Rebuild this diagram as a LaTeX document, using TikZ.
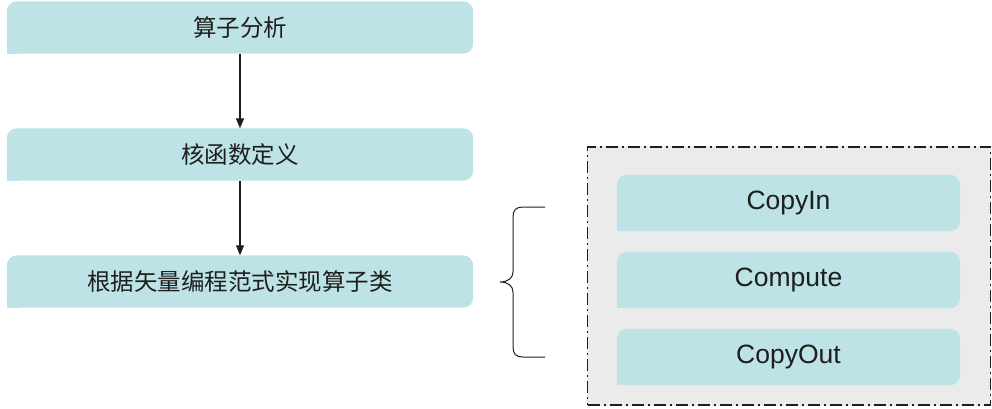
\documentclass[tikz,border=0pt]{standalone}
\usepackage{fontspec}
\setmainfont{Liberation Sans}
\newfontfamily\cjk{Noto Sans CJK SC}
\usetikzlibrary{arrows.meta,backgrounds}
\definecolor{boxfill}{RGB}{190,227,230}
\definecolor{framefill}{RGB}{235,235,235}
\definecolor{ink}{RGB}{30,30,30}
\begin{document}
\begin{tikzpicture}[x=1pt,y=-1pt,
  stepbox/.style={minimum width=466pt,minimum height=52pt,inner sep=0pt,
    font=\cjk\fontsize{23.5}{28}\selectfont,text=ink},
  partbox/.style={minimum width=343pt,minimum height=56pt,inner sep=0pt,
    font=\fontsize{26.5}{31}\selectfont,text=ink},
  framebox/.style={minimum width=403pt,minimum height=258pt,inner sep=0pt,
    draw=ink,line width=1.2pt,dash pattern=on 12pt off 4pt on 2pt off 4pt},
  flow/.style={-{Triangle[length=10pt,width=8pt]},line width=1.2pt,draw=ink},
  bracestyle/.style={draw=ink,line width=1pt},
  roundfill/.style={fill=boxfill,rounded corners=10pt},
]
\useasboundingbox (0,0) rectangle (992,408);
% left flow
\node[stepbox] (a) at (240,27.5) {算子分析};
\node[stepbox] (b) at (240,154.5) {核函数定义};
\node[stepbox] (c) at (240,281.5) {根据矢量编程范式实现算子类};
\draw[flow] (a.south) -- (b.north);
\draw[flow] (b.south) -- (c.north);
% frame and parts
\node[framebox] (f) at (789,276) {};
\node[partbox] (ci) at (788.5,203) {CopyIn};
\node[partbox] (cm) at (788.5,280) {Compute};
\node[partbox] (co) at (788.5,357) {CopyOut};
\begin{pgfonlayer}{background}
  \fill[framefill] (f.south west) rectangle (f.north east);
  \foreach \n in {a,b,c,ci,cm,co}{
    \fill[roundfill] (\n.south west) rectangle (\n.north east);
    \fill[boxfill] (\n.south west) rectangle ++(12pt,12pt);
  }
\end{pgfonlayer}
% brace
\coordinate (bt) at (545,207);
\coordinate (bb) at (545,357);
\coordinate (tip) at (500,282);
\draw[bracestyle] (bt) -- (523,207) .. controls (516,207) and (513,210) .. (513,217)
  -- (513,272) .. controls (513,278) and (508,282) .. (tip)
  .. controls (508,282) and (513,286) .. (513,292)
  -- (513,347) .. controls (513,354) and (516,357) .. (523,357) -- (bb);
\end{tikzpicture}
\end{document}
